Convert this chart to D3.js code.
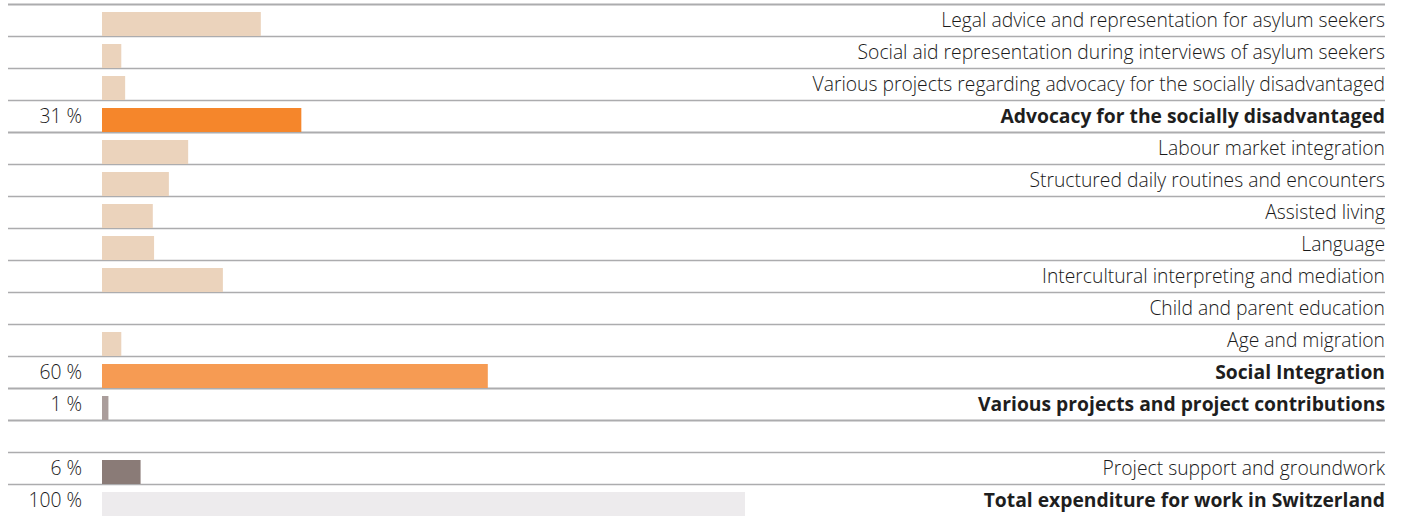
<!DOCTYPE html>
<html><head><meta charset="utf-8">
<script src="https://cdn.jsdelivr.net/npm/d3@7"></script>
<style>
html,body{margin:0;padding:0;background:#fff;}
svg{display:block;font-family:"Open Sans",sans-serif;}
</style></head>
<body>
<script>
// Data
const categories = [
  "Legal advice and representation for asylum seekers",
  "Social aid representation during interviews of asylum seekers",
  "Various projects regarding advocacy for the socially disadvantaged",
  "Advocacy for the socially disadvantaged",
  "Labour market integration",
  "Structured daily routines and encounters",
  "Assisted living",
  "Language",
  "Intercultural interpreting and mediation",
  "Child and parent education",
  "Age and migration",
  "Social Integration",
  "Various projects and project contributions",
  "",
  "Project support and groundwork",
  "Total expenditure for work in Switzerland"
];
const values = [24.7, 3.0, 3.6, 31, 13.4, 10.4, 7.9, 8.1, 18.8, 0, 3.0, 60, 1, 0, 6, 100];
const percentLabels = ["", "", "", "31 %", "", "", "", "", "", "", "", "60 %", "1 %", "", "6 %", "100 %"];
const bold = [false,false,false,true,false,false,false,false,false,false,false,true,true,false,false,true];
const kinds = ["sub","sub","sub","adv","sub","sub","sub","sub","sub","sub","sub","soc","var","none","sup","tot"];
const colors = {sub:"#ebd3bc", adv:"#f5862b", soc:"#f69b53", var:"#aa9d9b", sup:"#8a7b77", tot:"#edebed", none:"none"};

const W = 1402, H = 516;
const svg = d3.select("body").append("svg").attr("width", W).attr("height", H);

const x = d3.scaleLinear().domain([0, 100]).range([102, 745]);
const y = d3.scaleBand().domain(d3.range(categories.length)).range([4, 4 + 32 * categories.length]).paddingInner(0).paddingOuter(0);

// separators
const seps = d3.range(categories.length);
svg.selectAll("line.sep").data(seps).join("line")
  .attr("x1", 8).attr("x2", 1385)
  .attr("y1", i => y(i) + 0.5).attr("y2", i => y(i) + 0.5)
  .attr("stroke", "#acacae")
  .attr("stroke-width", i => (i > 0 && bold[i-1]) || i === 0 ? 2 : 1.3);

// bars
svg.selectAll("rect.bar").data(values).join("rect")
  .attr("x", x(0))
  .attr("y", (d, i) => y(i) + 8)
  .attr("width", d => x(d) - x(0))
  .attr("height", y.bandwidth() - 8)
  .attr("fill", (d, i) => colors[kinds[i]]);

// right labels
svg.selectAll("text.cat").data(categories).join("text")
  .attr("x", 1385)
  .attr("y", (d, i) => y(i) + 23)
  .attr("text-anchor", "end")
  .attr("font-size", 19.3)
  .attr("font-weight", (d, i) => bold[i] ? 700 : 300)
  .attr("fill", (d, i) => bold[i] ? "#1e1e1e" : "#1a1a1a")
  .text(d => d);

// left percent labels
svg.selectAll("text.pct").data(percentLabels).join("text")
  .attr("x", 82)
  .attr("y", (d, i) => y(i) + 23)
  .attr("text-anchor", "end")
  .attr("font-size", 19.3)
  .attr("font-weight", 300)
  .attr("fill", "#1a1a1a")
  .text(d => d);
</script>
</body></html>
